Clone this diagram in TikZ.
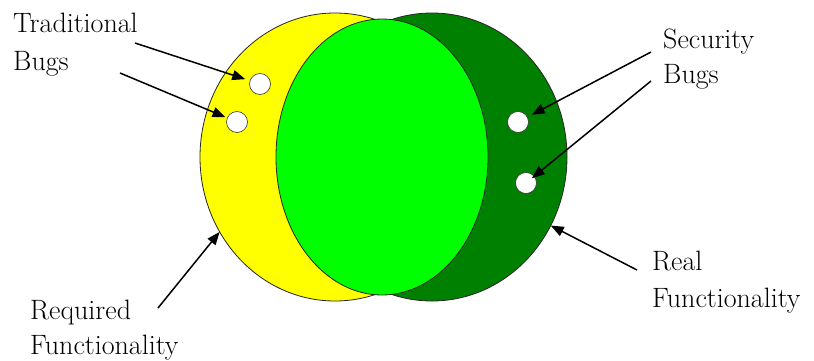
\documentclass[tikz,border=0pt]{standalone}
\usepackage{fontspec}
\usetikzlibrary{shapes.geometric,arrows.meta}
\definecolor{ylw}{RGB}{255,255,0}
\definecolor{lgreen}{RGB}{0,255,0}
\definecolor{dgreen}{RGB}{0,128,0}
\tikzset{
  region/.style={ellipse, draw=black!85, line width=0.8pt, inner sep=0pt, outer sep=0pt},
  hole/.style={circle, draw=black!80, line width=0.6pt, fill=white, minimum size=21pt, inner sep=0pt, outer sep=0pt},
  lbl/.style={anchor=north west, align=left, inner sep=0pt, font=\fontsize{28}{#1}\selectfont},
  lbl/.default=36,
  pointer/.style={-{Triangle[length=13pt,width=10pt]}, line width=1.5pt, black}
}
\begin{document}
\begin{tikzpicture}[x=1pt,y=-1pt]
\useasboundingbox (0,0) rectangle (814,360);
\fill[white] (0,0) rectangle (814,360);
% regions
\node[region, fill=ylw, minimum width=270pt, minimum height=288pt] (yel) at (335,157) {};
\node[region, fill=dgreen, minimum width=270pt, minimum height=288pt] (dark) at (432,157) {};
\node[region, fill=lgreen, minimum width=212pt, minimum height=276pt] (mid) at (382,157) {};
% holes
\node[hole] (h1) at (260,84) {};
\node[hole] (h2) at (237,122) {};
\node[hole] (h3) at (518,122) {};
\node[hole] (h4) at (526,183) {};
% labels
\node[lbl=38] (trad) at (13,12.6) {Traditional\\Bugs};
\node[lbl=35] (sec) at (663,28.3) {Security\\Bugs};
\node[lbl=35] (req) at (30,299.6) {Required\\Functionality};
\node[lbl=37] (real) at (652,250.6) {Real\\Functionality};
% arrow tails
\coordinate (t1) at (135,43);
\coordinate (t2) at (120,73);
\coordinate (t3) at (651,52);
\coordinate (t4) at (651,81);
\coordinate (t5) at (158,308);
\coordinate (t6) at (637,270);
% arrows
\draw[pointer, shorten >=5pt] (t1) -- (h1);
\draw[pointer, shorten >=2pt] (t2) -- (h2);
\draw[pointer, shorten >=5pt] (t3) -- (h3);
\draw[pointer, shorten >=-3pt] (t4) -- (h4);
\draw[pointer] (t5) -- (yel.213);
\draw[pointer] (t6) -- (dark.330);
\end{tikzpicture}
\end{document}
